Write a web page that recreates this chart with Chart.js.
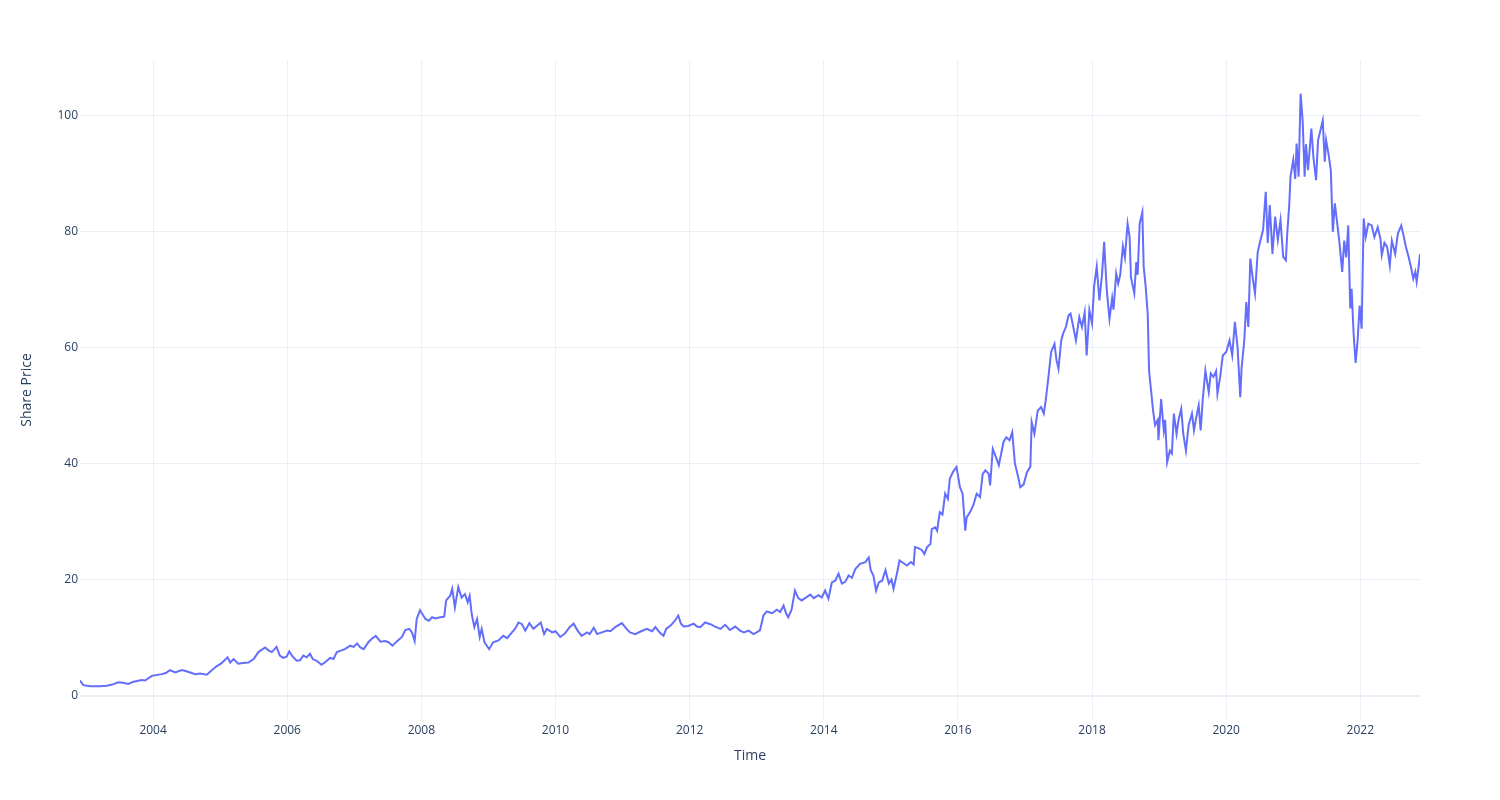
<!DOCTYPE html>
<html><head><meta charset="utf-8">
<script src="https://cdn.jsdelivr.net/npm/chart.js@4.4.0/dist/chart.umd.min.js"></script>
<style>html,body{margin:0;padding:0;background:#fff}canvas{display:block}</style>
</head><body>
<canvas id="c" width="1500" height="800"></canvas>
<script>
// Time as decimal years
const timeYears = [
2002.91,2002.96,2003.06,2003.21,2003.31,2003.39,2003.48,2003.55,2003.63,2003.71,2003.83,2003.88,2003.98,
2004.13,2004.19,2004.25,2004.33,2004.43,2004.52,2004.63,2004.70,2004.80,2004.88,2004.94,
2005.02,2005.11,2005.15,2005.20,2005.27,2005.34,2005.42,2005.50,2005.57,2005.67,2005.72,2005.77,2005.84,2005.89,2005.94,2005.99,
2006.03,2006.07,2006.14,2006.19,2006.24,2006.29,2006.34,2006.38,2006.44,2006.51,2006.56,2006.64,2006.69,2006.74,2006.81,2006.86,2006.94,2006.99,
2007.04,2007.09,2007.14,2007.21,2007.26,2007.32,2007.39,2007.46,2007.51,2007.57,2007.63,2007.71,2007.76,2007.82,2007.86,2007.90,2007.93,2007.98,
2008.06,2008.11,2008.16,2008.21,2008.28,2008.34,2008.37,2008.43,2008.46,2008.50,2008.55,2008.60,2008.65,2008.69,2008.72,2008.75,2008.79,2008.83,2008.87,2008.90,2008.94,
2009.01,2009.07,2009.15,2009.22,2009.28,2009.35,2009.39,2009.45,2009.50,2009.55,2009.61,2009.67,2009.72,2009.78,2009.83,2009.87,2009.95,
2010.00,2010.07,2010.14,2010.21,2010.27,2010.33,2010.39,2010.47,2010.51,2010.57,2010.62,2010.69,2010.77,2010.82,2010.89,2010.99,
2011.06,2011.11,2011.19,2011.26,2011.36,2011.44,2011.49,2011.55,2011.61,2011.65,2011.72,2011.78,2011.83,2011.87,2011.91,2011.98,
2012.06,2012.11,2012.16,2012.23,2012.31,2012.38,2012.46,2012.53,2012.60,2012.68,2012.75,2012.81,2012.88,2012.95,
2013.00,2013.05,2013.10,2013.15,2013.23,2013.30,2013.35,2013.40,2013.44,2013.47,2013.52,2013.57,2013.62,2013.67,2013.75,2013.80,2013.85,2013.92,2013.97,
2014.02,2014.07,2014.12,2014.17,2014.22,2014.27,2014.32,2014.37,2014.42,2014.47,2014.54,2014.62,2014.67,2014.70,2014.74,2014.78,2014.82,2014.87,2014.92,2014.97,
2015.01,2015.04,2015.09,2015.13,2015.19,2015.24,2015.30,2015.34,2015.36,2015.41,2015.46,2015.50,2015.54,2015.59,2015.61,2015.66,2015.69,2015.73,2015.77,2015.81,2015.85,2015.88,2015.93,2015.98,
2016.03,2016.07,2016.11,2016.13,2016.18,2016.23,2016.28,2016.33,2016.37,2016.41,2016.46,2016.48,2016.52,2016.57,2016.61,2016.64,2016.68,2016.72,2016.77,2016.81,2016.85,2016.90,2016.93,2016.98,
2017.03,2017.08,2017.10,2017.14,2017.19,2017.24,2017.28,2017.31,2017.35,2017.39,2017.44,2017.47,2017.50,2017.54,2017.57,2017.61,2017.65,2017.68,2017.72,2017.76,2017.81,2017.85,2017.89,2017.92,2017.96,
2018.00,2018.03,2018.07,2018.11,2018.15,2018.18,2018.22,2018.26,2018.30,2018.32,2018.36,2018.39,2018.42,2018.46,2018.49,2018.53,2018.56,2018.58,2018.63,2018.66,2018.68,2018.71,2018.75,2018.77,2018.80,2018.83,2018.85,2018.88,2018.91,2018.94,2018.98,2018.99,
2019.03,2019.07,2019.09,2019.12,2019.16,2019.19,2019.22,2019.26,2019.29,2019.33,2019.36,2019.40,2019.44,2019.49,2019.52,2019.55,2019.59,2019.62,2019.65,2019.69,2019.74,2019.77,2019.81,2019.85,2019.87,2019.91,2019.95,
2020.00,2020.05,2020.09,2020.13,2020.17,2020.21,2020.23,2020.27,2020.30,2020.33,2020.36,2020.40,2020.43,2020.47,2020.51,2020.55,2020.59,2020.62,2020.65,2020.69,2020.73,2020.77,2020.81,2020.85,2020.89,2020.91,2020.94,2020.96,
2021.00,2021.03,2021.05,2021.08,2021.11,2021.14,2021.17,2021.19,2021.22,2021.27,2021.30,2021.34,2021.37,2021.40,2021.44,2021.47,2021.49,2021.53,2021.56,2021.58,2021.59,2021.62,2021.65,2021.69,2021.73,2021.76,2021.79,2021.82,2021.85,2021.87,2021.90,2021.93,2021.96,2021.99,
2022.02,2022.05,2022.08,2022.12,2022.17,2022.21,2022.26,2022.30,2022.32,2022.36,2022.40,2022.44,2022.47,2022.52,2022.56,2022.61,2022.64,2022.68,2022.72,2022.76,2022.79,2022.82,2022.84,2022.87,2022.89
];
const sharePrice = [
2.6,1.8,1.6,1.6,1.7,1.9,2.3,2.2,2.0,2.4,2.7,2.6,3.4,
3.7,3.9,4.4,4.0,4.4,4.1,3.7,3.8,3.6,4.4,5.0,
5.6,6.6,5.7,6.3,5.5,5.6,5.7,6.3,7.5,8.3,7.8,7.5,8.4,6.9,6.5,6.7,
7.6,6.9,6.0,6.1,6.9,6.6,7.2,6.3,6.0,5.3,5.7,6.5,6.3,7.5,7.8,8.0,8.6,8.4,
9.0,8.3,8.0,9.2,9.8,10.3,9.3,9.4,9.2,8.6,9.3,10.1,11.3,11.5,10.9,9.4,13.2,14.7,
13.2,12.9,13.5,13.3,13.5,13.6,16.4,17.2,18.4,15.2,18.7,16.9,17.5,16.1,17.2,14.1,11.8,13.2,10.1,11.5,9.2,
8.0,9.2,9.5,10.3,9.9,10.9,11.4,12.6,12.3,11.2,12.5,11.5,12.0,12.6,10.6,11.5,10.9,
11.1,10.1,10.7,11.8,12.4,11.2,10.3,10.9,10.6,11.7,10.6,10.9,11.2,11.1,11.8,12.5,
11.5,10.9,10.6,11.0,11.5,11.1,11.8,10.9,10.3,11.5,12.1,12.9,13.8,12.4,11.9,12.0,
12.4,11.9,11.8,12.6,12.3,11.9,11.5,12.2,11.3,11.9,11.2,10.9,11.2,10.6,
10.9,11.3,13.8,14.5,14.2,14.8,14.4,15.5,14.1,13.5,14.8,18.1,16.8,16.4,17.0,17.4,16.8,17.3,16.9,
18.1,16.7,19.5,19.8,21.0,19.3,19.6,20.7,20.3,21.8,22.7,23.0,23.8,21.6,20.7,18.1,19.5,19.8,21.6,19.3,
20.0,18.4,21.0,23.3,22.8,22.4,23.0,22.6,25.6,25.4,25.1,24.4,25.6,26.1,28.7,29.0,28.4,31.6,31.2,34.8,33.9,37.4,38.6,39.4,
35.9,34.8,28.4,30.7,31.6,32.8,34.8,34.2,38.2,38.8,38.2,36.2,42.5,41.0,39.7,41.4,43.7,44.5,44.0,45.4,40.0,37.6,35.9,36.4,
38.5,39.4,47.1,45.1,49.1,49.7,48.6,50.9,54.9,59.2,60.6,57.8,56.3,61.2,62.4,63.5,65.5,65.8,63.5,61.2,65.2,63.5,66.0,58.6,66.4,
64.1,70.4,73.9,68.1,72.7,78.2,69.8,64.9,68.5,66.5,72.7,71.0,72.5,77.4,75.5,81.3,79.0,72.1,69.3,74.7,72.5,81.3,83.3,73.9,70.4,65.8,56.0,52.6,49.1,46.6,47.5,44.0,
51.1,45.7,47.5,40.2,42.2,41.7,48.6,45.1,47.5,49.4,45.1,42.2,46.6,48.6,45.7,47.7,50.0,45.7,50.9,56.0,52.3,55.5,54.9,55.9,52.0,54.9,58.6,
59.2,61.2,58.6,64.4,60.0,51.4,56.5,61.2,67.8,63.5,75.3,71.6,69.3,76.4,78.4,80.2,86.8,78.0,84.5,76.1,82.5,78.5,81.9,75.6,75.0,79.5,84.5,89.5,
92.3,89.0,95.1,89.4,103.7,99.1,89.4,95.0,90.5,97.7,92.8,88.8,95.7,97.1,99.1,92.0,95.7,93.0,90.5,83.6,79.9,84.8,81.9,77.9,73.0,78.4,75.5,81.0,66.7,70.1,62.4,57.3,61.2,67.2,
63.2,82.2,79.0,81.3,81.0,79.0,80.7,78.7,75.9,78.0,77.3,74.1,78.4,76.1,79.6,81.0,79.5,77.3,75.6,73.6,71.8,73.0,71.3,73.9,76.1
];
const xTickYears = [2004, 2006, 2008, 2010, 2012, 2014, 2016, 2018, 2020, 2022];
const yTickValues = [0, 20, 40, 60, 80, 100];
const xTitle = 'Time';
const yTitle = 'Share Price';

const FONT = '"Open Sans", verdana, arial, sans-serif';
const TXT = '#2a3f5f';
const GRID = '#ebf0f8';

const points = timeYears.map((t, i) => ({x: t, y: sharePrice[i]}));

new Chart(document.getElementById('c'), {
  type: 'line',
  data: { datasets: [{ data: points, borderColor: '#636efa', backgroundColor: '#636efa', borderWidth: 2, pointRadius: 0, fill: false, tension: 0 }] },
  options: {
    responsive: false, animation: false, devicePixelRatio: 1,
    layout: { padding: { top: 60, right: 80, bottom: 0, left: 0 } },
    plugins: { legend: { display: false }, tooltip: { enabled: false } },
    scales: {
      x: {
        type: 'linear', min: timeYears[0], max: timeYears[timeYears.length - 1],
        afterBuildTicks: s => { s.ticks = xTickYears.map(v => ({ value: v })); },
        afterFit: s => { s.height = 80; },
        ticks: { callback: v => String(v), color: TXT, font: { family: FONT, size: 12 }, padding: 3, maxRotation: 0, autoSkip: false },
        grid: { color: GRID, lineWidth: 1, drawTicks: false },
        border: { display: false },
        title: { display: true, text: xTitle, color: TXT, font: { family: FONT, size: 14 }, padding: { top: 0, bottom: 35.6 } }
      },
      y: {
        type: 'linear', min: -4.2, max: 109.5,
        afterBuildTicks: s => { s.ticks = yTickValues.map(v => ({ value: v })); },
        afterFit: s => { s.width = 80; },
        ticks: { callback: v => String(v), color: TXT, font: { family: FONT, size: 12 }, padding: 2 },
        grid: { color: GRID, lineWidth: c => (c.tick && c.tick.value === 0 ? 2 : 1), drawTicks: false },
        border: { display: false },
        title: { display: true, text: yTitle, color: TXT, font: { family: FONT, size: 14 }, padding: { top: 18.6, bottom: 0 } }
      }
    }
  }
});
</script>
</body></html>
